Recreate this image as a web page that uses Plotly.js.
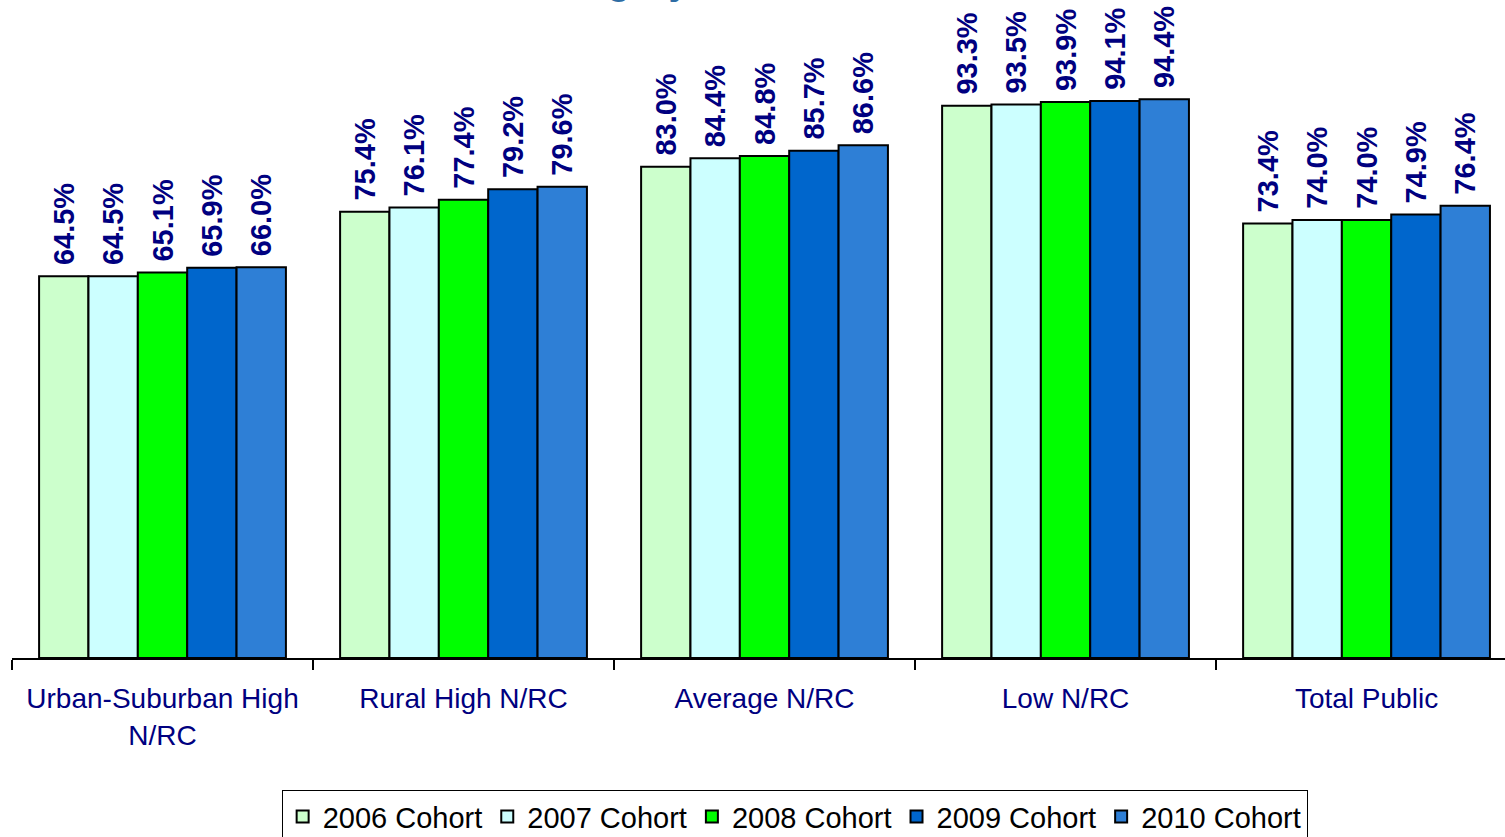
<!DOCTYPE html>
<html>
<head>
<meta charset="utf-8">
<script src="https://cdn.plot.ly/plotly-3.0.1.min.js"></script>
<style>html,body{margin:0;padding:0;background:#fff;}#chart{width:1505px;height:837px;}</style>
</head>
<body>
<div id="chart"></div>
<script>
const categories = ["Urban-Suburban High<br>N/RC", "Rural High N/RC", "Average N/RC", "Low N/RC", "Total Public"];
const seriesNames = ["2006 Cohort", "2007 Cohort", "2008 Cohort", "2009 Cohort", "2010 Cohort"];
const cohort2006 = [64.5, 75.4, 83.0, 93.3, 73.4];
const cohort2007 = [64.5, 76.1, 84.4, 93.5, 74.0];
const cohort2008 = [65.1, 77.4, 84.8, 93.9, 74.0];
const cohort2009 = [65.9, 79.2, 85.7, 94.1, 74.9];
const cohort2010 = [66.0, 79.6, 86.6, 94.4, 76.4];
const seriesValues = [cohort2006, cohort2007, cohort2008, cohort2009, cohort2010];
const colors = ["#CCFFCC", "#CCFFFF", "#00FF00", "#0066CC", "#2E7FD6"];

const traces = seriesValues.map((vals, i) => ({
  type: "bar",
  name: seriesNames[i],
  x: categories,
  y: vals,
  marker: {color: colors[i], line: {color: "#000", width: 2}},
  texttemplate: "\u00a0%{y:.1f}%",
  textposition: "outside",
  textangle: -90,
  constraintext: "none",
  cliponaxis: false,
  textfont: {family: "Arial, Liberation Sans, sans-serif", size: 29, weight: "bold", color: "#000080"},
  hoverinfo: "skip"
}));

const layout = {
  width: 1505,
  height: 837,
  margin: {l: 12, r: 0, t: 66, b: 179},
  paper_bgcolor: "#fff",
  plot_bgcolor: "#fff",
  barmode: "group",
  bargap: 0.18,
  bargroupgap: 0,
  showlegend: true,
  xaxis: {
    type: "category",
    range: [-0.5, 4.46],
    tickson: "boundaries",
    ticks: "outside",
    ticklen: 10,
    tickwidth: 1.5,
    tickcolor: "#000",
    showline: true,
    linecolor: "#000",
    linewidth: 1.5,
    showgrid: false,
    zeroline: false,
    ticklabelstandoff: 15,
    tickfont: {family: "Arial, Liberation Sans, sans-serif", size: 28, color: "#000080"}
  },
  yaxis: {range: [0, 100], visible: false, showgrid: false, zeroline: false},
  legend: {
    orientation: "h",
    xref: "container",
    yref: "container",
    x: 0.528,
    xanchor: "center",
    y: 0.056,
    yanchor: "top",
    bordercolor: "#000",
    borderwidth: 1,
    itemwidth: 30,
    font: {family: "Arial, Liberation Sans, sans-serif", size: 29, color: "#000"}
  },
  annotations: [{
    text: "Category",
    xref: "paper",
    yref: "paper",
    x: 0.342,
    xanchor: "left",
    y: 1.105,
    yanchor: "bottom",
    showarrow: false,
    font: {family: "Arial, Liberation Sans, sans-serif", size: 38, weight: "bold", color: "#2E6DA4"}
  }]
};

Plotly.newPlot("chart", traces, layout, {displayModeBar: false, staticPlot: true});
</script>
</body>
</html>
